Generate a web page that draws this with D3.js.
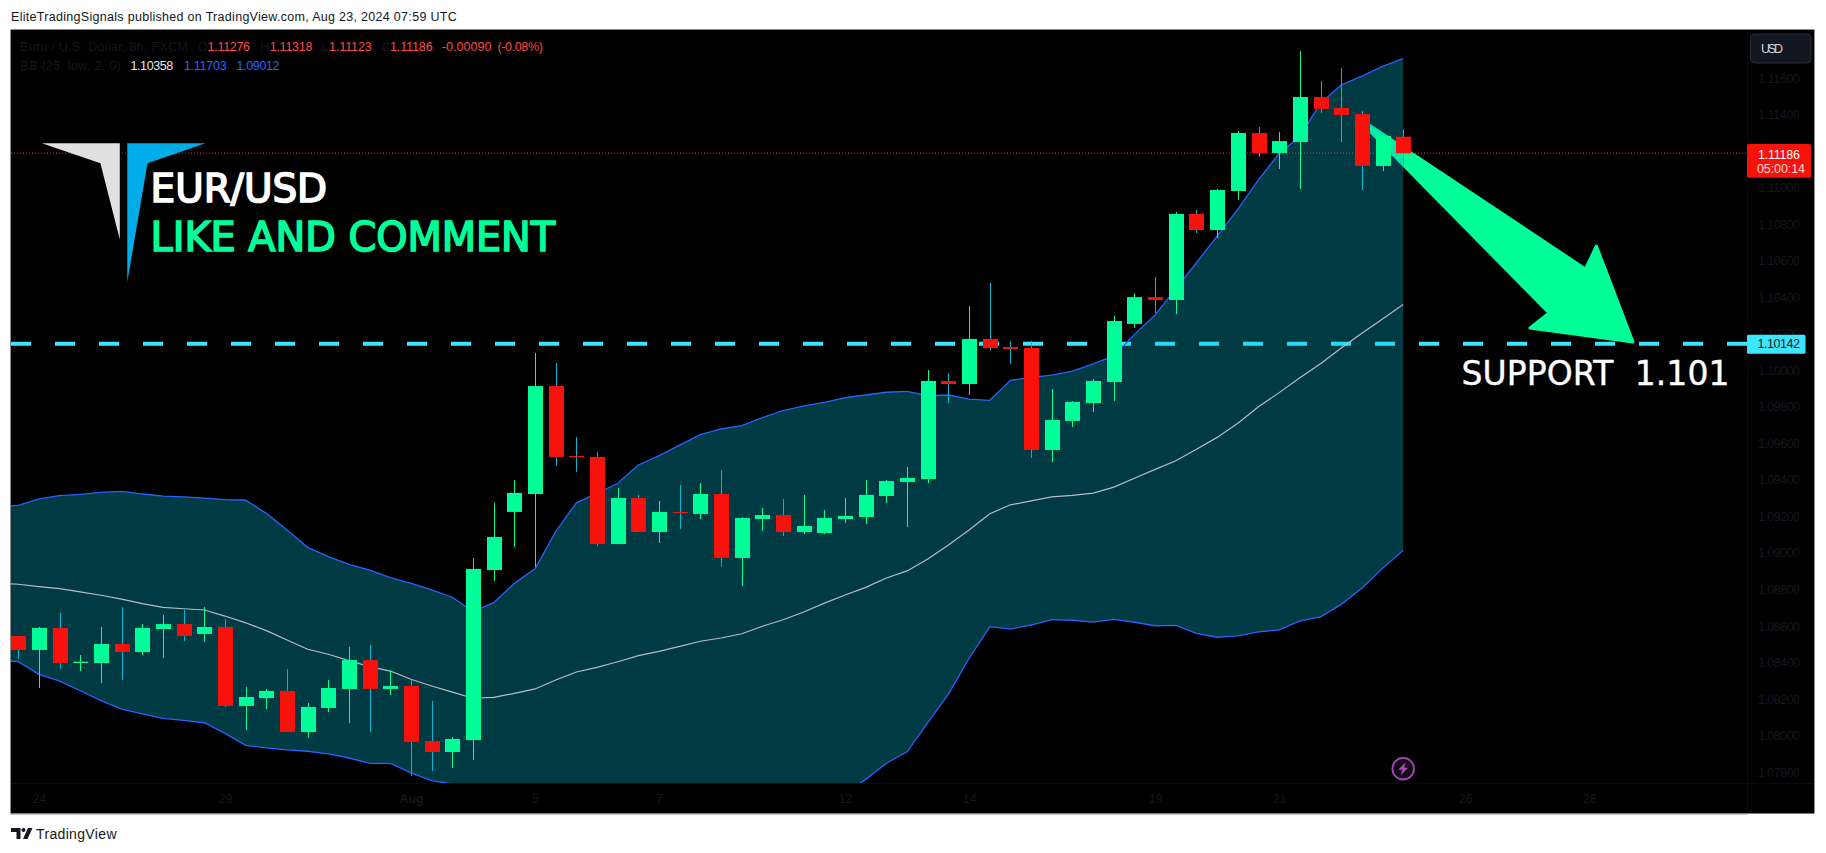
<!DOCTYPE html>
<html><head><meta charset="utf-8">
<script src="https://cdn.jsdelivr.net/npm/d3@7"></script>
<style>html,body{margin:0;padding:0;background:#fff}svg{display:block}text{font-family:"Liberation Sans",Arial,sans-serif;white-space:pre}</style>
</head><body><div id="chart"></div>
<script>
// Candles: one entry per 8h bar
const open=[1.08543,1.08466,1.08587,1.08395,1.08395,1.08499,1.08455,1.08581,1.08608,1.08554,1.08592,1.08160,1.08203,1.08242,1.08017,1.08149,1.08253,1.08411,1.08253,1.08269,1.07968,1.07908,1.07973,1.08904,1.09222,1.09320,1.09911,1.09528,1.09523,1.09046,1.09298,1.09112,1.09222,1.09211,1.09320,1.08970,1.09183,1.09205,1.09112,1.09107,1.09183,1.09194,1.09309,1.09386,1.09402,1.09939,1.09922,1.10169,1.10125,1.10119,1.09561,1.09720,1.09818,1.09933,1.10251,1.10398,1.10382,1.10853,1.10765,1.10979,1.11296,1.11187,1.11247,1.11493,1.11433,1.11400,1.11116,1.11276];
const high=[1.08543,1.08592,1.08669,1.08439,1.08592,1.08701,1.08608,1.08658,1.08685,1.08701,1.08636,1.08264,1.08253,1.08362,1.08176,1.08302,1.08483,1.08494,1.08357,1.08302,1.08187,1.07990,1.08970,1.09271,1.09397,1.10092,1.10037,1.09632,1.09550,1.09353,1.09315,1.09282,1.09369,1.09380,1.09451,1.09194,1.09244,1.09293,1.09315,1.09233,1.09298,1.09397,1.09397,1.09468,1.09999,1.09982,1.10349,1.10475,1.10158,1.10158,1.09895,1.09829,1.09950,1.10294,1.10420,1.10508,1.10864,1.10875,1.10990,1.11307,1.11329,1.11302,1.11745,1.11581,1.11652,1.11417,1.11280,1.11318];
const low=[1.08415,1.08258,1.08362,1.08351,1.08285,1.08302,1.08439,1.08422,1.08515,1.08510,1.08154,1.08028,1.08143,1.08017,1.07984,1.08127,1.08066,1.08017,1.08220,1.07776,1.07804,1.07820,1.07864,1.08844,1.09030,1.08922,1.09473,1.09441,1.09035,1.09046,1.09112,1.09052,1.09129,1.09183,1.08921,1.08817,1.09118,1.09090,1.09101,1.09101,1.09161,1.09156,1.09271,1.09139,1.09380,1.09818,1.09862,1.10108,1.10032,1.09517,1.09495,1.09687,1.09769,1.09829,1.10229,1.10311,1.10305,1.10749,1.10721,1.10929,1.11165,1.11099,1.10990,1.11406,1.11247,1.10984,1.11088,1.11123];
const close=[1.08466,1.08587,1.08395,1.08402,1.08499,1.08455,1.08587,1.08608,1.08543,1.08592,1.08160,1.08209,1.08242,1.08017,1.08154,1.08258,1.08411,1.08253,1.08269,1.07962,1.07908,1.07979,1.08910,1.09085,1.09326,1.09911,1.09523,1.09523,1.09046,1.09298,1.09112,1.09222,1.09216,1.09320,1.08970,1.09189,1.09205,1.09112,1.09145,1.09189,1.09200,1.09315,1.09391,1.09408,1.09939,1.09922,1.10169,1.10119,1.10114,1.09561,1.09725,1.09824,1.09939,1.10267,1.10398,1.10382,1.10853,1.10765,1.10984,1.11296,1.11187,1.11252,1.11493,1.11428,1.11395,1.11116,1.11280,1.11186];
// Bollinger bands: first entry is the bar before the first candle
const bbUpper=[1.09249,1.09258,1.09294,1.09311,1.09318,1.09329,1.09335,1.09320,1.09309,1.09304,1.09298,1.09289,1.09286,1.09214,1.09123,1.09028,1.08977,1.08935,1.08904,1.08862,1.08831,1.08795,1.08755,1.08676,1.08725,1.08831,1.08911,1.09114,1.09272,1.09324,1.09379,1.09479,1.09530,1.09588,1.09645,1.09676,1.09694,1.09738,1.09776,1.09803,1.09822,1.09847,1.09862,1.09877,1.09882,1.09858,1.09862,1.09840,1.09833,1.09942,1.09959,1.09971,1.09993,1.10032,1.10076,1.10194,1.10300,1.10444,1.10586,1.10732,1.10879,1.11039,1.11185,1.11276,1.11459,1.11559,1.11608,1.11661,1.11703];
const bbBasis=[1.08833,1.08826,1.08813,1.08802,1.08784,1.08766,1.08745,1.08720,1.08700,1.08692,1.08685,1.08652,1.08615,1.08572,1.08521,1.08470,1.08443,1.08408,1.08375,1.08351,1.08306,1.08269,1.08236,1.08202,1.08207,1.08229,1.08253,1.08302,1.08346,1.08371,1.08402,1.08435,1.08459,1.08486,1.08514,1.08532,1.08555,1.08596,1.08632,1.08674,1.08723,1.08767,1.08809,1.08860,1.08899,1.08964,1.09041,1.09123,1.09212,1.09261,1.09282,1.09304,1.09313,1.09325,1.09358,1.09406,1.09455,1.09502,1.09565,1.09630,1.09707,1.09798,1.09875,1.09957,1.10033,1.10119,1.10200,1.10278,1.10358];
const bbLower=[1.08409,1.08402,1.08333,1.08296,1.08243,1.08189,1.08143,1.08116,1.08092,1.08081,1.08068,1.08010,1.07944,1.07930,1.07919,1.07912,1.07897,1.07875,1.07846,1.07846,1.07794,1.07751,1.07733,1.07590,1.07481,1.07371,1.07207,1.07125,1.07098,1.07070,1.07070,1.07098,1.07125,1.07180,1.07262,1.07317,1.07371,1.07426,1.07492,1.07563,1.07629,1.07683,1.07758,1.07846,1.07909,1.08068,1.08225,1.08421,1.08594,1.08581,1.08603,1.08632,1.08629,1.08619,1.08634,1.08618,1.08599,1.08601,1.08557,1.08536,1.08543,1.08565,1.08576,1.08625,1.08648,1.08716,1.08804,1.08913,1.09012];
const priceTicks=[1.078,1.08,1.082,1.084,1.086,1.088,1.09,1.092,1.094,1.096,1.098,1.1,1.102,1.104,1.106,1.108,1.11,1.114,1.116];
const timeTickBars=[1,10,19,25,31,40,46,55,61,70,76];
const timeTickLabels=["24","29","Aug","5","7","12","14","19","21","26","28"];
const supportLevel=1.10142, lastClose=1.11186;

const W=1826,H=853;
const pane={l:11,t:30,r:1747,b:783}, frame={r:1814,b:813.5};
const BG="#000", GREEN="#00ff99", RED="#f8120c", CYAN="#3ce6ff", WICK="#00b8d4", FAINT="#14171f";
const x=d3.scaleLinear().domain([0,67]).range([18.3,1403.2]);
const y=d3.scaleLinear().domain([1.078,1.116]).range([771.7,77.5]);

const svg=d3.select("#chart").append("svg").attr("width",W).attr("height",H).attr("viewBox",`0 0 ${W} ${H}`);
svg.append("rect").attr("x",pane.l).attr("y",pane.t).attr("width",frame.r-pane.l).attr("height",frame.b-pane.t).attr("fill",BG);
svg.append("clipPath").attr("id","pane").append("rect").attr("x",pane.l).attr("y",pane.t).attr("width",pane.r-pane.l).attr("height",pane.b-pane.t);

function label(g,t,px,py,size,fill,width,opt={}){
  const s=g.append("text").attr("x",px).attr("y",py).attr("font-size",size).attr("fill",fill).text(t);
  if(width) s.attr("textLength",width).attr("lengthAdjust",opt.adjust||"spacing");
  if(opt.family) s.style("font-family",opt.family);
  if(opt.stroke) s.attr("stroke",fill).attr("stroke-width",opt.stroke);
  return s;
}

// Frame
svg.append("path").attr("d",`M${pane.l-.5} ${frame.b}V${pane.t-.5}H${frame.r+.5}V${frame.b}`).attr("fill","none").attr("stroke","#888b94").attr("stroke-width",1);
svg.append("path").attr("d",`M${pane.l-.5} ${frame.b+.5}H${pane.r}`).attr("fill","none").attr("stroke","#888b94").attr("stroke-width",1);
svg.append("path").attr("d",`M${pane.l} ${pane.b+.5}H${frame.r}M${pane.r+.5} ${pane.t}V${frame.b}`).attr("stroke","#0b0c10").attr("fill","none");

// Axes
const yAxis=d3.axisRight(y).tickValues(priceTicks).tickSize(0).tickPadding(0).tickFormat(d3.format(".5f"));
const gy=svg.append("g").attr("transform",`translate(1758,0)`).call(yAxis);
gy.select(".domain").remove();
gy.selectAll("text").attr("fill",FAINT).attr("font-size",12.5).attr("x",0).attr("dy","0.36em").attr("textLength",42).attr("lengthAdjust","spacing").style("font-family",'"Liberation Sans"');
const xAxis=d3.axisBottom(x).tickValues(timeTickBars).tickSize(0).tickPadding(0).tickFormat((d,i)=>timeTickLabels[i]);
const gx=svg.append("g").attr("transform",`translate(0,${pane.b})`).call(xAxis);
gx.select(".domain").remove();
gx.selectAll("text").attr("fill",FAINT).attr("font-size",12.5).attr("y",20).attr("dy",0).style("font-family",'"Liberation Sans"').attr("font-weight",(d,i)=>timeTickLabels[i]==="Aug"?"bold":null);

// Layers under the band
const plot=svg.append("g").attr("clip-path","url(#pane)");
plot.append("line").attr("x1",pane.l).attr("x2",pane.r).attr("y1",y(supportLevel)).attr("y2",y(supportLevel)).attr("stroke",CYAN).attr("stroke-width",4).attr("stroke-dasharray","20 24");
const arrow=[[1369.8,125.5],[1585.5,269],[1596.4,246],[1633,342],[1530,328],[1549,313],[1369.8,131]];
plot.append("polygon").attr("points",arrow.join(" ")).attr("fill",GREEN).attr("stroke",GREEN).attr("stroke-width",3).attr("stroke-linejoin","round");
plot.append("line").attr("x1",pane.l).attr("x2",pane.r).attr("y1",y(lastClose)).attr("y2",y(lastClose)).attr("stroke","#ff2020").attr("stroke-width",1).attr("stroke-dasharray","1 2");

// Bollinger band
const bx=(d,i)=>x(i-1);
plot.append("path").datum(bbUpper).attr("d",d3.area().x(bx).y0((d,i)=>y(bbLower[i])).y1(d=>y(d))).attr("fill","#00c0dc").attr("fill-opacity",.3);
const lineGen=d3.line().x(bx).y(d=>y(d));
plot.append("path").datum(bbBasis).attr("d",lineGen).attr("fill","none").attr("stroke","#b8bbc4").attr("stroke-width",1.2);
[bbUpper,bbLower].forEach(b=>plot.append("path").datum(b).attr("d",lineGen).attr("fill","none").attr("stroke","#2962ff").attr("stroke-width",1.3));

// Candles
const bars=d3.range(open.length);
const cg=plot.append("g").selectAll("g").data(bars).join("g");
cg.append("rect").attr("x",i=>Math.round(x(i))).attr("width",1).attr("y",i=>y(high[i])).attr("height",i=>y(low[i])-y(high[i])).attr("fill",i=>close[i]>=open[i]?GREEN:WICK);
cg.append("rect").attr("x",i=>Math.round(x(i))-7).attr("width",15)
  .attr("y",i=>y(Math.max(open[i],close[i])))
  .attr("height",i=>Math.max(1.2,Math.abs(y(open[i])-y(close[i]))))
  .attr("fill",i=>close[i]>=open[i]?GREEN:RED);

// Price labels on the scale
svg.append("rect").attr("x",pane.r).attr("y",144).attr("width",64).attr("height",33.7).attr("rx",1.5).attr("fill",RED);
label(svg,lastClose.toFixed(5),1758,158.5,12.5,"#fff",42);
label(svg,"05:00:14",1757,173,12.5,"#ffd9d6",48);
svg.append("rect").attr("x",pane.r).attr("y",y(supportLevel)-9).attr("width",58.5).attr("height",19).attr("rx",1.5).attr("fill",CYAN);
label(svg,supportLevel.toFixed(5),1757.5,y(supportLevel)+4.6,12.5,"#131722",42.5);
svg.append("rect").attr("x",1750.5).attr("y",34).attr("width",60.5).attr("height",29).attr("rx",4).attr("fill","#131722").attr("stroke","#2a2e39");
label(svg,"USD",1761,53,12.5,"#d1d4dc",22);

// Header and legends
label(svg,"EliteTradingSignals published on TradingView.com, Aug 23, 2024 07:59 UTC",11,21,12.5,"#131722",445.7);
label(svg,"Euro / U.S. Dollar, 8h, FXCM",20,51,12.5,FAINT,168);
[["O",198],["H",260],["L",321.5],["C",381.6]].forEach(d=>label(svg,d[0],d[1],51,12.5,FAINT));
const legendRed="#ff4a4a";
[["1.11276",207.6,42.4],["1.11318",269.7,42.7],["1.11123",329,42.7],["1.11186",390,42.6],["-0.00090",441.7,49.8],["(-0.08%)",497.4,45.5]].forEach(d=>label(svg,d[0],d[1],51,12.5,legendRed,d[2]));
label(svg,"BB (25, low, 2, 0)",20.6,70,12.5,FAINT,100);
label(svg,"1.10358",130.5,70,12.5,"#e6e8ee",42.7);
label(svg,"1.11703",183.9,70,12.5,"#2962ff",42.7);
label(svg,"1.09012",236.5,70,12.5,"#2962ff",43);

// Logo
svg.append("polygon").attr("points","41.9,143.3 119.8,143.3 119.8,239.5 100.4,163.3").attr("fill","#e0e0e0");
svg.append("polygon").attr("points","127.3,143.3 205.6,143.3 147.5,163.3 127.3,282").attr("fill","#00ade9");

// Annotations
const dj='"DejaVu Sans"';
label(svg,"EUR/USD",150.6,201.5,39,"#fff",176.5,{family:dj,stroke:1.7,adjust:"spacingAndGlyphs"});
label(svg,"LIKE AND COMMENT",150.6,251,40.5,GREEN,404.5,{family:dj,stroke:1.7,adjust:"spacingAndGlyphs"});
label(svg,"SUPPORT  1.101",1461.5,385,33,"#fff",268,{family:dj,stroke:.4});

// Bolt badge
const bolt=svg.append("g").attr("transform",`translate(${x(67)},768.7)`);
bolt.append("circle").attr("r",10.8).attr("fill","#140a17").attr("stroke","#ab47bc").attr("stroke-width",1.8);
bolt.append("path").attr("d","M2.5,-6.5L-5,1H-1L-2.5,6.5L5,-1H1Z").attr("fill","#ab47bc");

// Footer
const tv=svg.append("g").attr("fill","#131722");
tv.append("path").attr("d","M11,828H20.5V839H16.5V832H11Z");
tv.append("circle").attr("cx",23.5).attr("cy",830).attr("r",2);
tv.append("path").attr("d","M28,828H32.5L27.5,839H23Z");
label(svg,"TradingView",36,839,14,"#131722",80.5);
</script></body></html>
